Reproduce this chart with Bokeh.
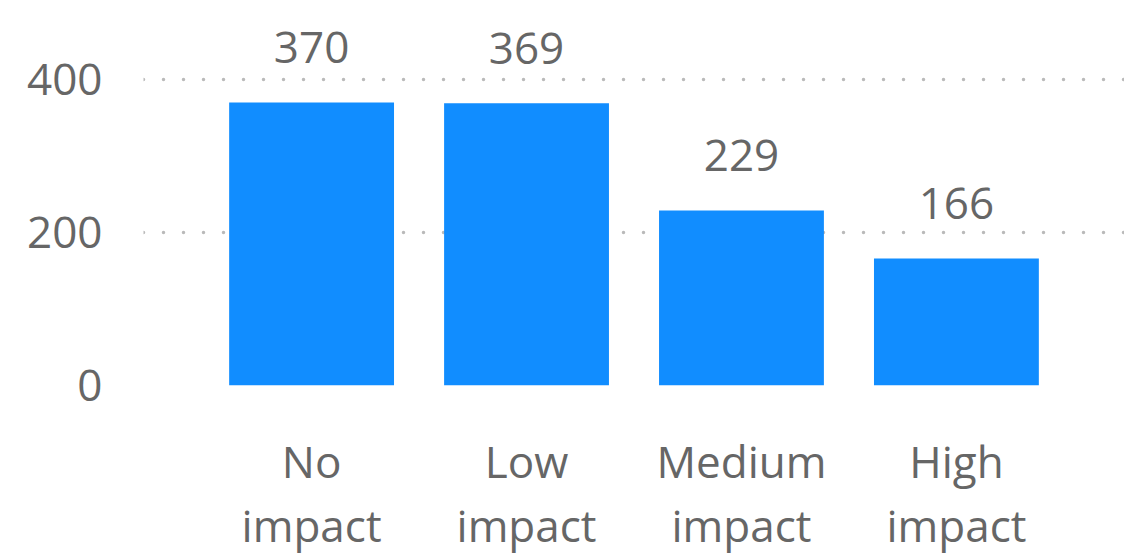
from bokeh.plotting import figure
from bokeh.models import FactorRange, Range1d, FixedTicker, ColumnDataSource
from bokeh.core.properties import value
from bokeh.embed import file_html
from bokeh.resources import INLINE

categories = ["No\nimpact", "Low\nimpact", "Medium\nimpact", "High\nimpact"]
values = [370, 369, 229, 166]
y_ticks = [0, 200, 400]

FONT = "Open Sans"
TXT = "#666666"
BAR = "#118DFF"

src = ColumnDataSource(dict(cat=categories, val=values, lbl=[str(v) for v in values]))

p = figure(
    frame_width=981, frame_height=367,
    x_range=FactorRange(factors=categories, range_padding=0.282, range_padding_units="absolute"),
    y_range=Range1d(0, 480),
    output_backend="svg", toolbar_location=None,
    min_border_left=143, min_border_right=0, min_border_top=18, min_border_bottom=160,
)
p.outline_line_color = None
p.background_fill_color = "white"
p.border_fill_color = "white"

p.vbar(x="cat", top="val", width=0.767, source=src, color=BAR, line_color=None)
p.text(x="cat", y="val", text="lbl", source=src, y_offset=-55,
       text_align="center", text_baseline="alphabetic",
       text_font=value(FONT), text_font_size="44px", text_color=TXT)

ya = p.yaxis[0]
ya.ticker = FixedTicker(ticks=y_ticks)
ya.axis_line_color = None
ya.major_tick_line_color = None
ya.minor_tick_line_color = None
ya.major_tick_out = 0
ya.major_tick_in = 0
ya.major_label_standoff = 41
ya.major_label_text_font = FONT
ya.major_label_text_font_size = "44px"
ya.major_label_text_color = TXT

xa = p.xaxis[0]
xa.axis_line_color = None
xa.major_tick_line_color = None
xa.minor_tick_line_color = None
xa.major_tick_out = 0
xa.major_tick_in = 0
xa.major_label_standoff = 45
xa.major_label_text_font = FONT
xa.major_label_text_font_size = "44px"
xa.major_label_text_color = TXT
xa.major_label_text_line_height = 1.08

p.xgrid.visible = False
p.ygrid.ticker = FixedTicker(ticks=y_ticks)
p.ygrid.grid_line_color = "#bababa"
p.ygrid.grid_line_width = 3.5
p.ygrid.grid_line_dash = "0 20"
p.ygrid.grid_line_cap = "round"

open("out.html", "w").write(file_html(p, INLINE))
